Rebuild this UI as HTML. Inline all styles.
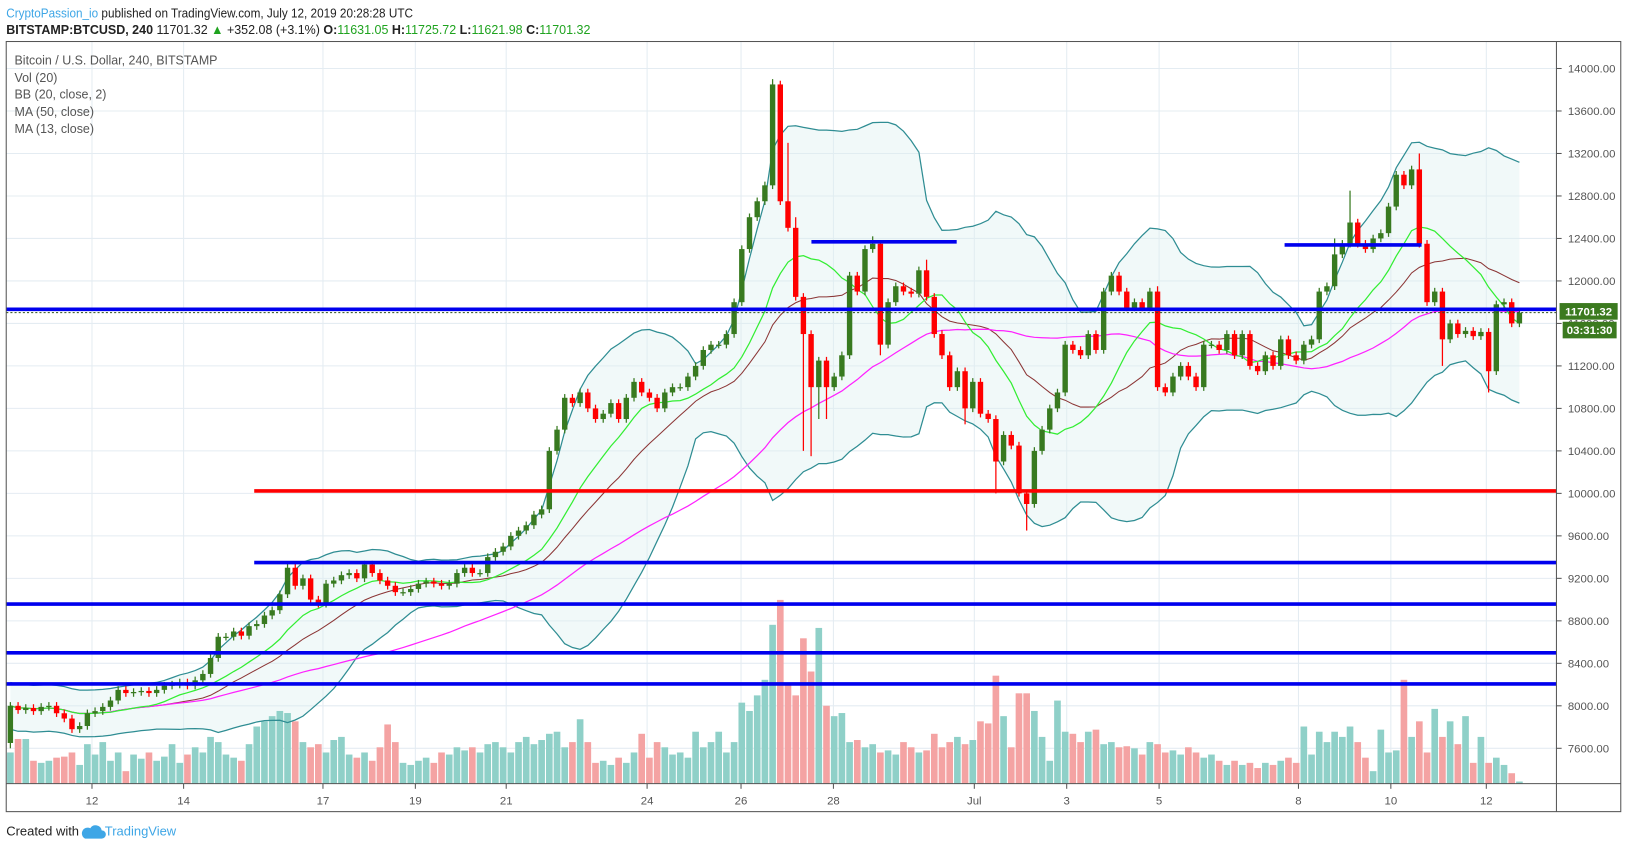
<!DOCTYPE html>
<html><head><meta charset="utf-8"><title>BTCUSD 240</title>
<style>
html,body{margin:0;padding:0;background:#fff;}
svg{display:block;font-family:"Liberation Sans",sans-serif;}
</style></head>
<body>
<svg id="chart" width="1627" height="849" viewBox="0 0 1568 818" preserveAspectRatio="none" xmlns="http://www.w3.org/2000/svg">
<rect x="0" y="0" width="1568" height="818" fill="#fff"/>
<text x="6" y="17" font-size="12.5" fill="#222" textLength="392" lengthAdjust="spacingAndGlyphs"><tspan fill="#3ea6e6">CryptoPassion_io</tspan> published on TradingView.com, July 12, 2019 20:28:28 UTC</text>
<text x="6" y="33" font-size="12.5" fill="#222" textLength="563" lengthAdjust="spacingAndGlyphs"><tspan font-weight="bold">BITSTAMP:BTCUSD, 240</tspan> 11701.32 <tspan fill="#1fa31f">▲</tspan> +352.08 (+3.1%) <tspan font-weight="bold">O:</tspan><tspan fill="#1fa31f">11631.05</tspan> <tspan font-weight="bold">H:</tspan><tspan fill="#1fa31f">11725.72</tspan> <tspan font-weight="bold">L:</tspan><tspan fill="#1fa31f">11621.98</tspan> <tspan font-weight="bold">C:</tspan><tspan fill="#1fa31f">11701.32</tspan></text>
<g id="grid"></g>
<g id="bb"></g>
<g id="vol"></g>
<g id="lines"></g>
<g id="candles"></g>
<g id="levels"></g>
<g id="axes"></g>
<rect x="6" y="40" width="1556" height="742" fill="none" stroke="#555" stroke-width="1"/>
<line x1="1500" y1="40" x2="1500" y2="782" stroke="#555"/>
<line x1="6" y1="755" x2="1562" y2="755" stroke="#555"/>
<g font-size="12" fill="#555">
<text x="14" y="62">Bitcoin / U.S. Dollar, 240, BITSTAMP</text>
<text x="14" y="79">Vol (20)</text>
<text x="14" y="95">BB (20, close, 2)</text>
<text x="14" y="112">MA (50, close)</text>
<text x="14" y="128">MA (13, close)</text>
</g>
<g>
<rect x="1503" y="292" width="56" height="16" fill="#3b7a1f"/>
<text x="1531" y="304" font-size="11" font-weight="bold" fill="#fff" text-anchor="middle">11701.32</text>
<rect x="1506" y="310" width="52" height="16" fill="#3b7a1f"/>
<text x="1532" y="322" font-size="11" font-weight="bold" fill="#fff" text-anchor="middle">03:31:30</text>
</g>
<g>
<text x="6" y="805" font-size="12.5" fill="#222">Created with</text>
<path d="M82 808 h16 a4 4 0 0 0 0 -8 a6 6 0 0 0 -11 -2 a4 4 0 0 0 -5 10z" fill="#3ea6e6"/>
<text x="101" y="805" font-size="12.5" fill="#3ea6e6">TradingView</text>
</g>
</svg>
<script>
const closes=[8000,7960,7980,7950,7990,8000,7930,7880,7780,7810,
7930,7950,7990,8050,8150,8120,8130,8140,8120,8150,
8190,8200,8220,8190,8240,8300,8450,8650,8650,8700,
8660,8750,8770,8850,8900,9050,9300,9130,9200,9000,
8960,9150,9180,9230,9250,9200,9330,9250,9180,9130,
9070,9070,9100,9150,9170,9150,9130,9150,9250,9300,
9250,9250,9400,9450,9500,9600,9650,9700,9800,9850,
10400,10600,10900,10850,10950,10800,10700,10750,10850,10700,
10900,11050,10950,10900,10800,10950,11000,11000,11100,11200,
11350,11400,11400,11500,11800,12300,12600,12750,12900,13850,
12750,12500,11850,11500,11000,11250,11000,11100,11300,12050,
11900,12300,12350,11400,11800,11950,11900,11880,12100,11850,
11500,11300,11000,11150,10800,11050,10750,10700,10300,10550,
10450,10000,9900,10400,10600,10800,10950,11400,11350,11300,
11500,11350,11900,12050,11900,11750,11800,11750,11900,11000,
10950,11100,11200,11100,11000,11400,11400,11350,11500,11300,
11500,11200,11150,11300,11200,11450,11300,11250,11400,11450,
11900,11950,12250,12350,12550,12350,12300,12400,12450,12700,
13000,12900,13050,12350,11800,11900,11450,11600,11500,11530,
11480,11520,11150,11780,11800,11600,11701];
const firstOpen=7650;
const wickHigh={99:13900,101:13300,102:12600,112:12420,113:12380,119:12200,149:11950,183:13200,174:12850,172:12400};
const wickLow={0:7600,103:10400,104:10350,106:10700,124:10650,128:10000,131:9970,132:9650,113:11300,186:11200,192:10950,105:10700};
const volumes=[30,43,43,22,20,22,25,26,30,18,
38,28,40,22,30,12,28,24,30,22,
26,38,20,28,35,30,45,40,28,25,
22,38,55,60,65,70,68,60,40,35,
38,30,42,45,28,25,30,22,35,57,
40,20,18,22,25,20,30,28,35,32,
35,30,38,40,35,30,40,45,38,42,
48,50,35,40,62,40,20,22,18,25,
20,30,48,25,40,35,28,30,25,50,
35,40,50,30,40,78,70,85,100,153,
177,95,85,140,108,150,75,65,68,40,
42,35,38,30,32,28,40,35,30,32,
48,35,40,45,38,42,60,58,104,65,
35,87,87,70,45,22,80,50,48,40,
50,52,38,40,35,36,34,28,40,38,
30,32,28,35,30,25,28,22,18,22,
18,20,15,20,18,22,25,20,55,28,
50,40,50,45,55,40,25,12,52,30,
32,100,45,60,30,72,45,60,38,65,
20,45,20,25,18,10,2];
const priceTicks=[7600,8000,8400,8800,9200,9600,10000,10400,10800,11200,11600,12000,12400,12800,13200,13600,14000];
const dateLabels=["12","14","17","19","21","24","26","28","Jul","3","5","8","10","12"];
const dateIndex=[10.6,22.5,40.6,52.6,64.4,82.7,94.9,106.9,125.2,137.2,149.2,167.3,179.3,191.7];
const levelPrices=[11733,10023,9349,8958,8499,8206,12368,12339];
const levelStart=[6,245,245,6,6,6,782,1238];
const levelEnd=[1500,1500,1500,1500,1500,1500,922,1370];
const levelColor=["#0000ee","#ff0000","#0000ee","#0000ee","#0000ee","#0000ee","#0000ee","#0000ee"];

const NS="http://www.w3.org/2000/svg";
const X=i=>10+i*7.42;
const Y=p=>66+(14000-p)*0.10234;
const VY=v=>755-v*(177/177);
function mk(tag,attrs,parent){const e=document.createElementNS(NS,tag);for(const k in attrs)e.setAttribute(k,attrs[k]);parent.appendChild(e);return e;}
const G=id=>document.getElementById(id);

priceTicks.forEach(p=>{
 const l=mk('line',{x1:6,x2:1500,y1:Y(p),y2:Y(p),stroke:'#e4ecf2','stroke-width':1},G('grid'));
 
 
 const t=mk('line',{x1:1500,x2:1505,y1:Y(p),y2:Y(p),stroke:'#555'},G('axes'));
 
 
 const tx=mk('text',{x:1511,y:Y(p)+4,'font-size':11,fill:'#555'},G('axes'));
 tx.textContent=p.toFixed(2);
 
 
});
dateLabels.forEach((d,k)=>{
 const x=X(dateIndex[k]);
 const l=mk('line',{x1:x,x2:x,y1:40,y2:755,stroke:'#e4ecf2','stroke-width':1},G('grid'));
 
 
 const t=mk('line',{x1:x,x2:x,y1:755,y2:760,stroke:'#555'},G('axes'));
 
 
 const tx=mk('text',{x:x,y:775,'font-size':11,fill:'#555','text-anchor':'middle'},G('axes'));
 tx.textContent=d;
 
 
});

function sma(n,i){const s=Math.max(0,i-n+1);let t=0;for(let k=s;k<=i;k++)t+=closes[k];return t/(i-s+1);}
function sd(n,i,m){const s=Math.max(0,i-n+1);let t=0;for(let k=s;k<=i;k++)t+=(closes[k]-m)**2;return Math.sqrt(t/(i-s+1));}
const up=[],lo=[],basis=[],ma13=[],ma50=[];
closes.forEach((c,i)=>{const m=sma(20,i);const s=Math.max(sd(20,i,m),110);basis.push([X(i),Y(m)]);up.push([X(i),Y(m+2*s)]);lo.push([X(i),Y(m-2*s)]);ma13.push([X(i),Y(sma(13,i))]);ma50.push([X(i),Y(sma(50,i))]);});
const pts=a=>a.map(p=>p[0].toFixed(1)+','+p[1].toFixed(1)).join(' ');
const fill=mk('polygon',{points:pts(up)+' '+pts(lo.slice().reverse()),fill:'#dcefef','fill-opacity':0.4},G('bb'));


const bu=mk('polyline',{points:pts(up),fill:'none',stroke:'#2f8d93','stroke-width':1.2},G('lines'));


const bl=mk('polyline',{points:pts(lo),fill:'none',stroke:'#2f8d93','stroke-width':1.2},G('lines'));


const bb=mk('polyline',{points:pts(basis),fill:'none',stroke:'#8b3535','stroke-width':1},G('lines'));


const m50=mk('polyline',{points:pts(ma50),fill:'none',stroke:'#ff22ff','stroke-width':1.2},G('lines'));


const m13=mk('polyline',{points:pts(ma13),fill:'none',stroke:'#33ee33','stroke-width':1.2},G('lines'));



closes.forEach((c,i)=>{
 const o=i===0?firstOpen:closes[i-1];
 const upC=c>=o;
 const hi=wickHigh[i]!==undefined?wickHigh[i]:Math.max(o,c)+35;
 const lw=wickLow[i]!==undefined?wickLow[i]:Math.min(o,c)-35;
 const col=upC?'#387a20':'#ff0000';
 const x=X(i);
 const v=mk('rect',{x:x-3.2,y:VY(volumes[i]),width:6.4,height:755-VY(volumes[i]),fill:upC?'#8fd0c8':'#f4a3a3'},G('vol'));
 
 
 const w=mk('line',{x1:x,x2:x,y1:Y(hi),y2:Y(lw),stroke:col,'stroke-width':1.2},G('candles'));
 
 
 const top=Y(Math.max(o,c)),bot=Y(Math.min(o,c));
 const b=mk('rect',{x:x-2.6,y:top,width:5.2,height:Math.max(1.2,bot-top),fill:col},G('candles'));
 
 
});

levelPrices.forEach((p,k)=>{
 const l=mk('line',{x1:levelStart[k],x2:levelEnd[k],y1:Y(p),y2:Y(p),stroke:levelColor[k],'stroke-width':3.5},G('levels'));
 
 
});
const last=mk('line',{x1:6,x2:1500,y1:Y(11701.32),y2:Y(11701.32),stroke:'#2a4f18','stroke-width':1,'stroke-dasharray':'2,2'},G('levels'));


</script>
</body></html>
